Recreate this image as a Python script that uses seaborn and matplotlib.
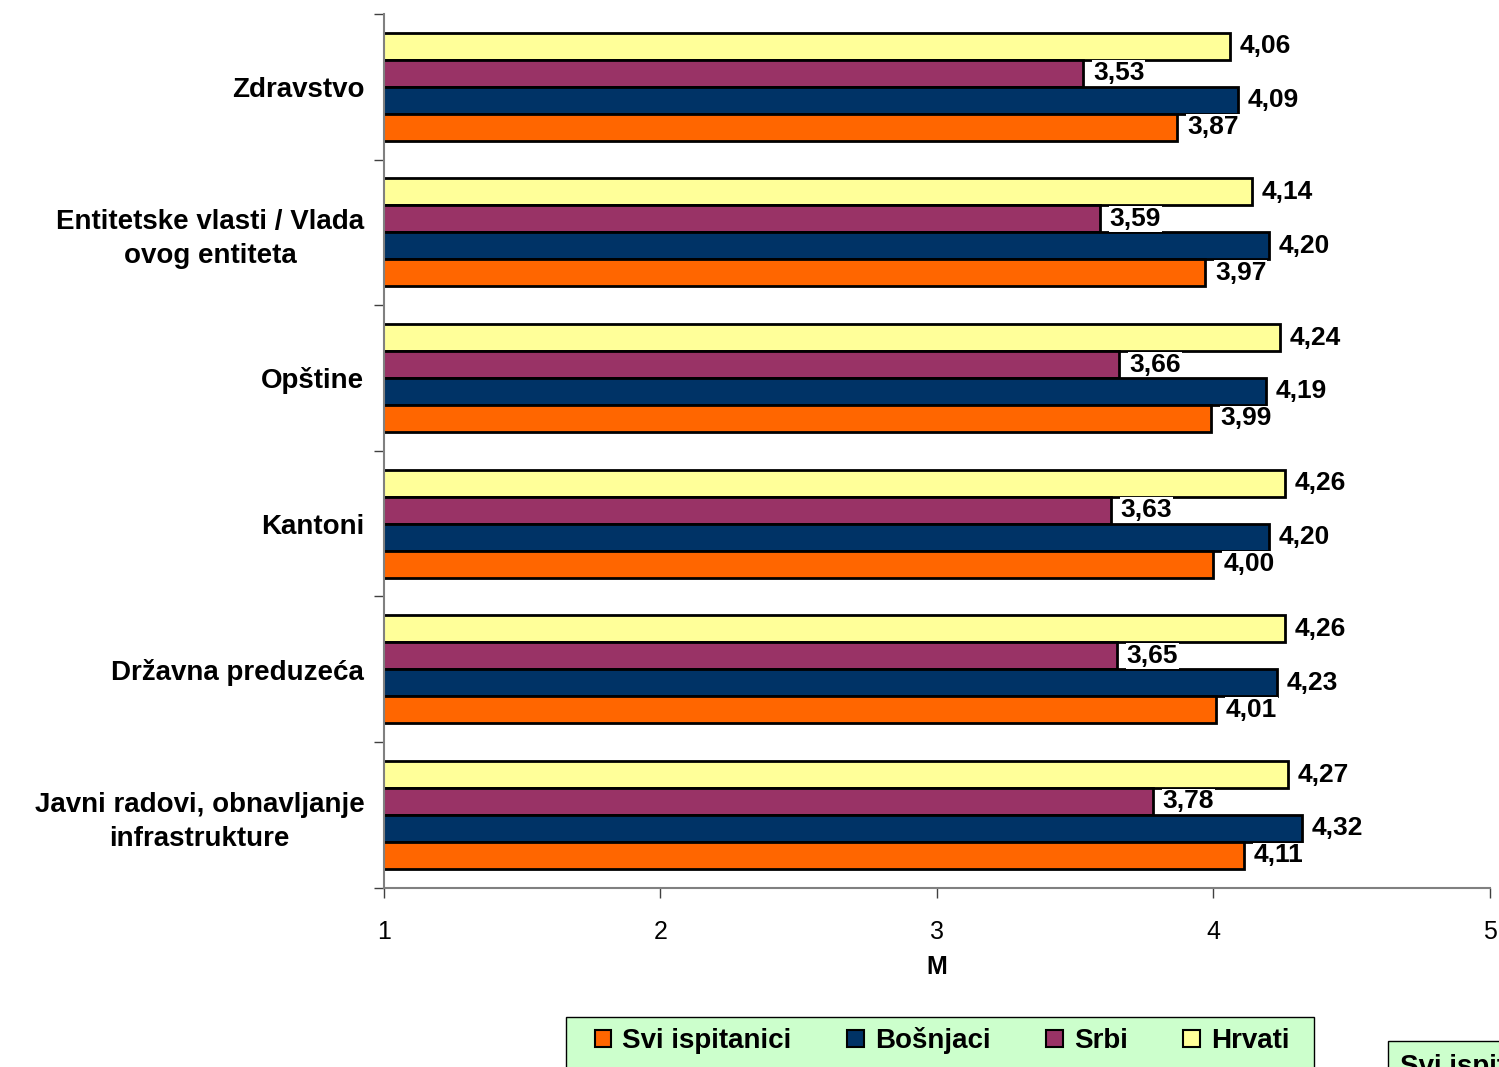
import pandas as pd
import matplotlib
matplotlib.use("Agg")
import matplotlib.pyplot as plt
import seaborn as sns
from matplotlib.patches import Patch, Rectangle

categories = [
    "Zdravstvo",
    "Entitetske vlasti / Vlada\novog entiteta",
    "Opštine",
    "Kantoni",
    "Državna preduzeća",
    "Javni radovi, obnavljanje\ninfrastrukture",
]
svi = [3.87, 3.97, 3.99, 4.00, 4.01, 4.11]
bosnjaci = [4.09, 4.20, 4.19, 4.20, 4.23, 4.32]
srbi = [3.53, 3.59, 3.66, 3.63, 3.65, 3.78]
hrvati = [4.06, 4.14, 4.24, 4.26, 4.26, 4.27]

series_names = ["Hrvati", "Srbi", "Bošnjaci", "Svi ispitanici"]
series_values = [hrvati, srbi, bosnjaci, svi]
legend_order = ["Svi ispitanici", "Bošnjaci", "Srbi", "Hrvati"]
colors = {"Hrvati": "#FFFF99", "Srbi": "#993366",
          "Bošnjaci": "#003366", "Svi ispitanici": "#FF6600"}

rows = []
for name, vals in zip(series_names, series_values):
    for cat, v in zip(categories, vals):
        rows.append({"kategorija": cat, "grupa": name, "M": v})
df = pd.DataFrame(rows)

sns.set_style("white")
plt.rcParams["font.family"] = ["Liberation Sans", "DejaVu Sans"]
plt.rcParams["text.color"] = "black"
plt.rcParams["xtick.color"] = "#404040"
plt.rcParams["xtick.labelcolor"] = "black"
plt.rcParams["ytick.labelcolor"] = "black"

fig = plt.figure(figsize=(14.99, 10.67), dpi=100)
ax = fig.add_axes([0.256, 0.168, 0.738, 0.819])

sns.barplot(data=df, y="kategorija", x="M", hue="grupa", order=categories,
            hue_order=series_names, palette=colors, orient="h", width=0.74,
            saturation=1, edgecolor="black", linewidth=2, ax=ax,
            legend=False)

ax.set_xlim(1, 5)
ax.set_ylim(len(categories) - 0.5, -0.5)

for container in ax.containers:
    labels = [f"{b.get_width():.2f}".replace(".", ",") for b in container]
    ax.bar_label(container, labels=labels, padding=7, fontsize=19,
                 fontweight="bold", color="black",
                 bbox=dict(facecolor="white", edgecolor="none", pad=0.5))

ax.set_xticks([1, 2, 3, 4, 5])
ax.set_xticklabels(["1", "2", "3", "4", "5"], fontsize=18)
ax.set_xlabel("M", fontsize=18, fontweight="bold", labelpad=8,
              color="black")
ax.set_ylabel("")
ax.set_yticks(range(len(categories)))
ax.set_yticklabels(categories, fontsize=20, fontweight="bold",
                   multialignment="center", linespacing=1.4)
ax.tick_params(axis="y", length=0, pad=14)
ax.set_yticks([i - 0.5 for i in range(len(categories) + 1)], minor=True)
ax.tick_params(axis="y", which="minor", left=True, length=7,
               color="#404040", width=1)
ax.tick_params(axis="x", length=7, color="#404040", width=1, direction="out",
               bottom=True, pad=16)

for side in ["top", "right"]:
    ax.spines[side].set_visible(False)
for side in ["left", "bottom"]:
    ax.spines[side].set_color("#808080")
    ax.spines[side].set_linewidth(1.5)

# legend box at the bottom (cut off by the page edge, like the original)
fig.patches.append(Rectangle((0.3776, -0.02), 0.499, 0.0669,
                             transform=fig.transFigure, facecolor="#CCFFCC",
                             edgecolor="black", linewidth=1, zorder=0))
handles = [Patch(facecolor=colors[n], edgecolor="black", linewidth=1.5)
           for n in legend_order]
leg = fig.legend(handles, legend_order,
                 loc="center left", bbox_to_anchor=(0.3966, 0.0244), ncol=4,
                 frameon=False, handlelength=0.6, handleheight=0.6,
                 handletextpad=0.4, columnspacing=2.0,
                 prop={"size": 20, "weight": "bold"}, borderpad=0,
                 borderaxespad=0)

fig.text(0.934, -0.012, "Svi ispitanici", fontsize=20, fontweight="bold",
         ha="left", va="bottom",
         bbox=dict(facecolor="#CCFFCC", edgecolor="black", pad=9))

fig.savefig("out.png", dpi=100)
